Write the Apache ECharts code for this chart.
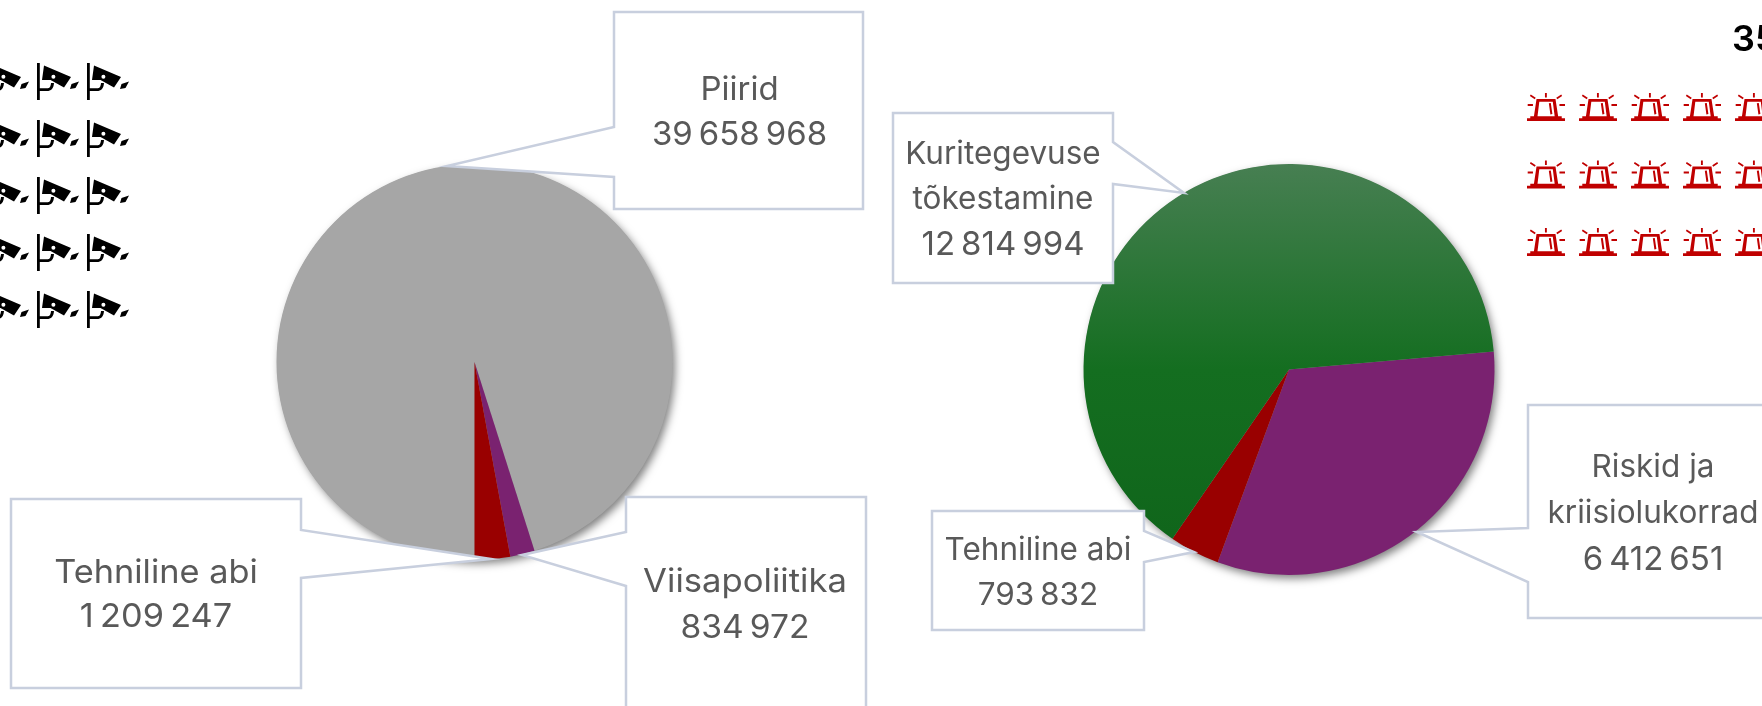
<!DOCTYPE html>
<html><head><meta charset="utf-8">
<style>html,body{margin:0;padding:0;background:#fff;overflow:hidden}#c{width:1762px;height:706px}</style>
<script src="https://cdn.jsdelivr.net/npm/echarts@6/dist/echarts.min.js"></script>
</head><body><div id="c"></div>
<script>
// ---- data ----
const leftNames  = ['Piirid', 'Viisapoliitika', 'Tehniline abi'];
const leftValues = [39658968, 834972, 1209247];
const rightNames  = ['Riskid ja\nkriisiolukorrad', 'Tehniline abi', 'Kuritegevuse\ntõkestamine'];
const rightValues = [6412651, 793832, 12814994];
const cameraCols = [0, 1, 2];
const cameraRows = [0, 1, 2, 3, 4];
const sirenCols = [0, 1, 2, 3, 4];
const sirenRows = [0, 1, 2];
const cornerText = '35';

// ---- style / layout ----
const FONT = 'Inter';
const TEXT = '#595959';
const EDGE = '#c8cfde';
const leftPie  = {cx: 474.5, cy: 362, r: 198, start: -90};
const rightPie = {cx: 1289, cy: 369.5, r: 205.5, start: 5};
const leftColors = ['#a6a6a6', '#7a2270', '#990000'];
const rightColors = [
  '#7a2270', '#990000',
  {type: 'linear', global: true, x: 0, y: 164, x2: 0, y2: 575,
   colorStops: [{offset: 0, color: '#477f52'}, {offset: .5, color: '#146e20'}, {offset: 1, color: '#0f641a'}]}
];
// callout shape + the text anchor for every slice
const leftBoxes = [
  {pts: [[614,12],[863,12],[863,209],[614,209],[614,177],[447,166],[614,127]], x: 739.5, y: 90, gap: 45, size: 33, numSize: 33, sx: 1},
  {pts: [[626,497],[866,497],[866,740],[626,740],[626,586],[522,555],[626,532]], x: 745, y: 582, gap: 46, size: 33, numSize: 32, sx: 1.05},
  {pts: [[11,499],[301,499],[301,530],[491,559],[301,578],[301,688],[11,688]], x: 156, y: 573, gap: 44, size: 33, numSize: 33, sx: 1.04}
];
const rightBoxes = [
  {pts: [[1528,405],[1810,405],[1810,618],[1528,618],[1528,582],[1417,532],[1528,528]], x: 1653, y: 468, gap: 46, size: 31.5, numSize: 33, sx: 1},
  {pts: [[932,511],[1144,511],[1144,531],[1194,552],[1144,562],[1144,630],[932,630]], x: 1038, y: 551, gap: 45, size: 31.5, numSize: 31.5, sx: 1},
  {pts: [[893,113],[1113,113],[1113,142],[1184,193],[1113,184],[1113,283],[893,283]], x: 1003, y: 155, gap: 45, size: 31.5, numSize: 33, sx: 1}
];
const CAMERA = 'path://M0 0H2.8V37H0Z M2.8 25.3H10C12.5 25.3 13.6 24 14 20L17 20C16.6 25.8 14 28 10 28H2.8Z ' +
  'M7 2.5L34 14L27 24.5L13.5 17L5 17Z M18.4 13.8A2 2 0 1 0 14.4 13.8A2 2 0 1 0 18.4 13.8Z ' +
  'M34.5 21L42 18.5L38.5 25L33 26Z';
const SIREN = 'path://M0 24.7H3.3V22.7H7L9.6 5.8H28.7L31.4 22.7H35V24.7H38.3V27.3H0Z ' +
  'M12.4 8.6L10.6 22.7H27.9L26 8.6Z ' +
  'M22 10L24 9.7L25.6 20.5L23.6 20.9Z ' +
  'M18.1 0H20V4.3H18.1Z M3.8 1.4L8.8 4.6L7.8 6.1L2.9 3Z M34.5 1.4L35.4 3L30.5 6.1L29.5 4.6Z ' +
  'M.7 10.7H6V12.7H.7Z M32.7 10.7H38.3V12.7H32.7Z';

const fmt = v => String(v).replace(/\B(?=(\d{3})+$)/g, '\u2009');
const grid2 = (cols, rows) => cols.flatMap(c => rows.map(r => [c, r]));

function pieSeries(p, names, values, colors) {
  return {
    type: 'pie', z: 2, silent: true, animation: false,
    center: [p.cx, p.cy], radius: [0, p.r], startAngle: p.start, clockwise: true,
    label: {show: false}, labelLine: {show: false},
    data: names.map((n, i) => ({name: n.replace('\n', ' '), value: values[i], itemStyle: {color: colors[i]}}))
  };
}
function callouts(boxes, names, values) {
  const out = [];
  boxes.forEach((b, i) => {
    out.push({type: 'polygon', z: 5, silent: true, shape: {points: b.pts},
      style: {fill: '#fff', stroke: EDGE, lineWidth: 2.5, lineJoin: 'miter'}});
    const lines = names[i].split('\n');
    lines.concat(fmt(values[i])).forEach((line, k) => {
      const size = k === lines.length ? b.numSize : b.size;
      out.push({type: 'text', z: 6, silent: true, x: b.x, y: b.y + k * b.gap, scaleX: b.sx,
        style: {text: line, fill: TEXT, font: '400 ' + size + 'px ' + FONT, align: 'center', verticalAlign: 'middle'}});
    });
  });
  return out;
}
function disc(p) {
  return {type: 'circle', z: 1, silent: true, shape: {cx: p.cx, cy: p.cy, r: p.r - .5},
    style: {fill: '#999', shadowColor: 'rgba(0,0,0,.5)', shadowBlur: 8, shadowOffsetX: 3, shadowOffsetY: 4}};
}
function hiddenAxis(max, inverse) {
  return {type: 'value', min: 0, max, inverse: !!inverse, show: false};
}

const chart = echarts.init(document.getElementById('c'), null, {renderer: 'canvas', width: 1762, height: 706});
chart.setOption({
  animation: false,
  backgroundColor: '#fff',
  grid: [
    {left: 8, top: 81.5, width: 150, height: 228},
    {left: 1546, top: 107, width: 208, height: 135}
  ],
  xAxis: [Object.assign(hiddenAxis(3), {gridIndex: 0}), Object.assign(hiddenAxis(4), {gridIndex: 1})],
  yAxis: [Object.assign(hiddenAxis(4, true), {gridIndex: 0}), Object.assign(hiddenAxis(2, true), {gridIndex: 1})],
  series: [
    pieSeries(leftPie, leftNames, leftValues, leftColors),
    pieSeries(rightPie, rightNames, rightValues, rightColors),
    {type: 'scatter', xAxisIndex: 0, yAxisIndex: 0, clip: false, silent: true,
     symbol: CAMERA, symbolSize: [42, 37], itemStyle: {color: '#000', opacity: 1},
     data: grid2(cameraCols, cameraRows)},
    {type: 'scatter', xAxisIndex: 1, yAxisIndex: 1, clip: false, silent: true,
     symbol: SIREN, symbolSize: [38, 28], itemStyle: {color: '#c00000', opacity: 1},
     data: grid2(sirenCols, sirenRows)}
  ],
  graphic: {elements: [
    disc(leftPie), disc(rightPie),
    ...callouts(leftBoxes, leftNames, leftValues),
    ...callouts(rightBoxes, rightNames, rightValues),
    {type: 'text', z: 6, silent: true, x: 1732, y: 40,
     style: {text: cornerText, fill: '#000', font: '600 36px ' + FONT, align: 'left', verticalAlign: 'middle'}}
  ]}
});
</script></body></html>
